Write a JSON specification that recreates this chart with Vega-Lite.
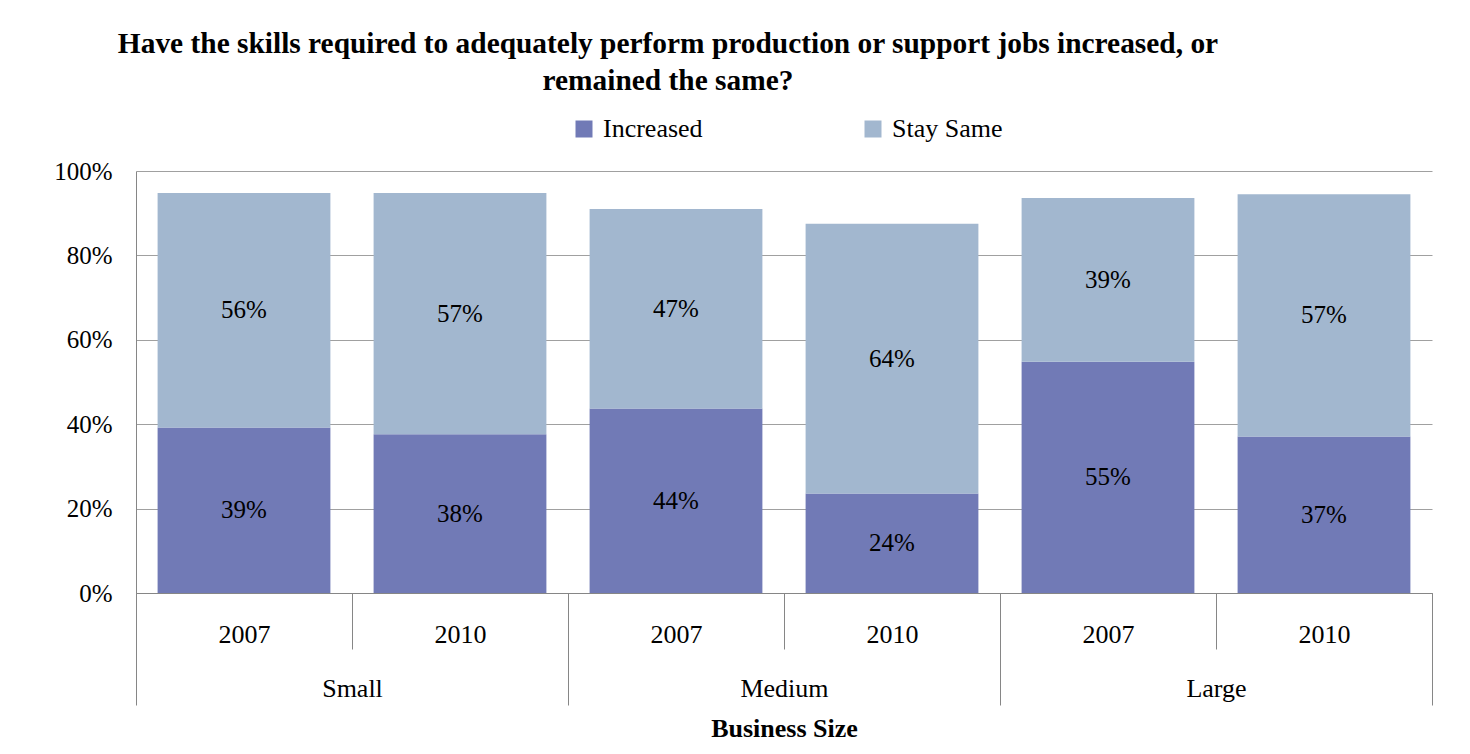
{
  "$schema": "https://vega.github.io/schema/vega-lite/v6.json",
  "width": 1296,
  "height": 422,
  "autosize": {"type": "none"},
  "padding": {"left": 136, "top": 171, "right": 38, "bottom": 161},
  "background": "white",
  "title": {
    "text": ["Have the skills required to adequately perform production or support jobs increased, or", "remained the same?"],
    "font": "Liberation Serif",
    "fontSize": 29.4,
    "fontWeight": "bold",
    "color": "black",
    "anchor": "middle",
    "frame": "group",
    "dx": -116,
    "lineHeight": 37,
    "offset": 20
  },
  "data": {
    "values": [
      {"size": "Small", "year": "2007", "key": "Small 2007", "series": "Increased", "value": 0.392},
      {"size": "Small", "year": "2007", "key": "Small 2007", "series": "Stay Same", "value": 0.556},
      {"size": "Small", "year": "2010", "key": "Small 2010", "series": "Increased", "value": 0.376},
      {"size": "Small", "year": "2010", "key": "Small 2010", "series": "Stay Same", "value": 0.572},
      {"size": "Medium", "year": "2007", "key": "Medium 2007", "series": "Increased", "value": 0.437},
      {"size": "Medium", "year": "2007", "key": "Medium 2007", "series": "Stay Same", "value": 0.473},
      {"size": "Medium", "year": "2010", "key": "Medium 2010", "series": "Increased", "value": 0.236},
      {"size": "Medium", "year": "2010", "key": "Medium 2010", "series": "Stay Same", "value": 0.639},
      {"size": "Large", "year": "2007", "key": "Large 2007", "series": "Increased", "value": 0.548},
      {"size": "Large", "year": "2007", "key": "Large 2007", "series": "Stay Same", "value": 0.388},
      {"size": "Large", "year": "2010", "key": "Large 2010", "series": "Increased", "value": 0.371},
      {"size": "Large", "year": "2010", "key": "Large 2010", "series": "Stay Same", "value": 0.574}
    ]
  },
  "config": {
    "font": "Liberation Serif",
    "view": {"stroke": null},
    "title": {"font": "Liberation Serif"},
    "text": {"font": "Liberation Serif"},
    "legend": {"labelFont": "Liberation Serif"},
    "axis": {"labelFont": "Liberation Serif", "titleFont": "Liberation Serif"}
  },
  "layer": [
    {
      "layer": [
        {
          "mark": {"type": "bar", "width": {"band": 0.8}},
          "encoding": {
            "x": {
              "field": "key",
              "type": "nominal",
              "sort": null,
              "scale": {"paddingInner": 0, "paddingOuter": 0},
              "axis": {
                "title": null,
                "labelExpr": "split(datum.label, ' ')[1]",
                "tickBand": "extent",
                "tickSize": 56,
                "tickColor": "#868686",
                "domainColor": "#868686",
                "labelPadding": -7,
                "labelBaseline": "alphabetic",
                "labelAngle": 0,
                "labelFontSize": 26,
                "labelColor": "black",
                "grid": false
              }
            },
            "y": {
              "field": "value",
              "type": "quantitative",
              "stack": "zero",
              "scale": {"domain": [0, 1]},
              "axis": {
                "title": null,
                "format": ".0%",
                "values": [0, 0.2, 0.4, 0.6, 0.8, 1],
                "ticks": false,
                "labelPadding": 24,
                "labelFontSize": 25,
                "labelColor": "black",
                "labelBaseline": "middle",
                "grid": true,
                "gridColor": "#a0a0a0",
                "domainColor": "#868686"
              }
            },
            "order": {"field": "series", "sort": "ascending"},
            "color": {
              "field": "series",
              "type": "nominal",
              "scale": {"domain": ["Increased", "Stay Same"], "range": ["#717ab6", "#a2b7cf"]},
              "legend": {
                "orient": "none",
                "legendX": 435,
                "legendY": -55,
                "direction": "horizontal",
                "title": null,
                "symbolType": "square",
                "symbolSize": 289,
                "symbolStrokeWidth": 0,
                "labelFont": "Liberation Serif",
                "labelFontSize": 26,
                "labelColor": "black",
                "labelOffset": 6,
                "columnPadding": 157
              }
            }
          }
        },
        {
          "mark": {"type": "text", "font": "Liberation Serif", "fontSize": 25, "color": "black", "baseline": "middle"},
          "encoding": {
            "x": {"field": "key", "type": "nominal", "sort": null},
            "y": {"field": "value", "type": "quantitative", "stack": "zero", "bandPosition": 0.5},
            "detail": {"field": "series"},
            "order": {"field": "series", "sort": "ascending"},
            "text": {"field": "value", "type": "quantitative", "format": ".0%"}
          }
        }
      ]
    },
    {
      "mark": {"type": "rule", "strokeOpacity": 0},
      "encoding": {
        "x": {
          "field": "size",
          "type": "nominal",
          "sort": null,
          "scale": {"paddingInner": 0, "paddingOuter": 0},
          "axis": {
            "orient": "bottom",
            "title": "Business Size",
            "titleFont": "Liberation Serif",
            "titleFontSize": 26,
            "titleFontWeight": "bold",
            "titleColor": "black",
            "titlePadding": 10,
            "tickBand": "extent",
            "tickSize": 112,
            "tickColor": "#868686",
            "domainColor": "#868686",
            "labelPadding": -9,
            "labelBaseline": "alphabetic",
            "labelAngle": 0,
            "labelFontSize": 26,
            "labelColor": "black",
            "grid": false
          }
        }
      }
    }
  ],
  "resolve": {"scale": {"x": "independent"}, "axis": {"x": "independent"}}
}
